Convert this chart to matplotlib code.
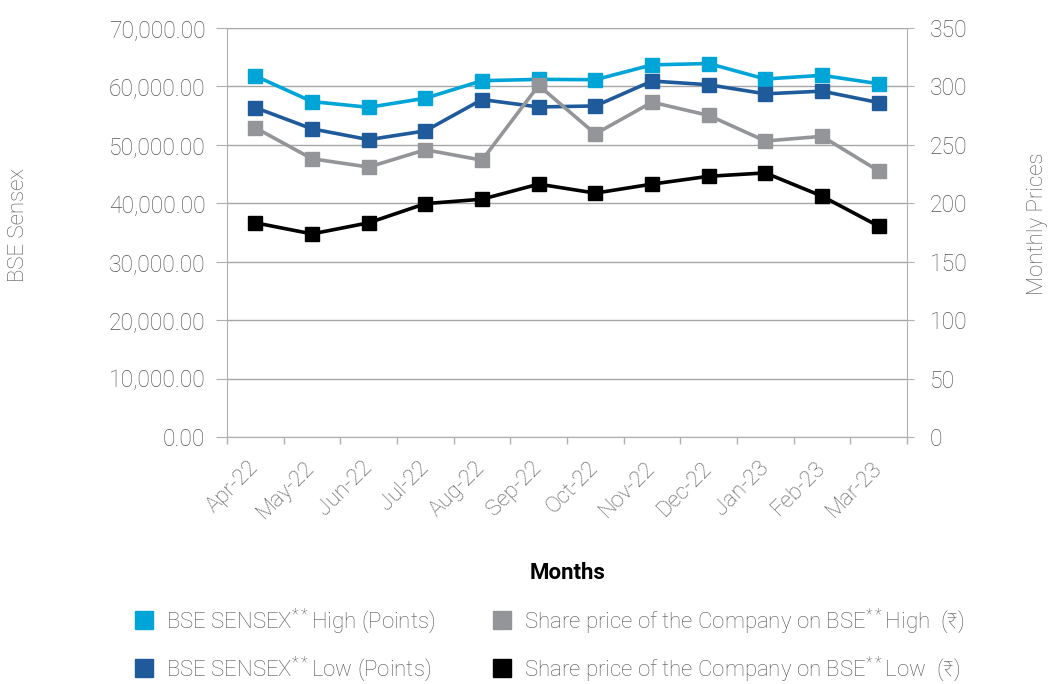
import matplotlib
matplotlib.use("Agg")
import matplotlib.pyplot as plt
from matplotlib.lines import Line2D
from matplotlib.ticker import FuncFormatter, FixedLocator

months = ["Apr-22", "May-22", "Jun-22", "Jul-22", "Aug-22", "Sep-22",
          "Oct-22", "Nov-22", "Dec-22", "Jan-23", "Feb-23", "Mar-23"]
sensex_high = [61786, 57407, 56426, 57983, 60980, 61210,
               61153, 63688, 63920, 61268, 61902, 60461]
sensex_low = [56369, 52738, 50893, 52392, 57752, 56485,
              56658, 60922, 60288, 58733, 59193, 57234]
share_high = [264.6, 238.1, 231.0, 245.8, 236.9, 300.9,
              259.4, 286.5, 275.2, 253.3, 257.3, 227.7]
share_low = [183.3, 173.8, 183.3, 199.7, 203.5, 216.4,
             208.7, 216.4, 223.1, 226.0, 206.1, 180.4]

labels = ["BSE SENSEX$^{\\mathregular{**}}$High (Points)",
          "BSE SENSEX$^{\\mathregular{**}}$Low (Points)",
          "Share price of the Company on BSE$^{\\mathregular{**}}$High  (₹)",
          "Share price of the Company on BSE$^{\\mathregular{**}}$Low  (₹)"]
colors = ["#00A5D8", "#1F5B9B", "#939598", "#000000"]

FONT = ["Roboto", "Noto Sans", "DejaVu Sans"]
plt.rcParams["font.family"] = FONT
plt.rcParams["font.weight"] = "light"
plt.rcParams["mathtext.default"] = "regular"
TXT = "#555555"
AX = "#B0B0B0"

fig = plt.figure(figsize=(10.53, 6.84), dpi=100)
ax = fig.add_axes([227 / 1053, 1 - 437 / 684, 680 / 1053, 409 / 684])
ax2 = ax.twinx()

x = list(range(len(months)))
ax.plot(x, sensex_high, color=colors[0], lw=2.6, marker="s", ms=9.5, zorder=3)
ax.plot(x, sensex_low, color=colors[1], lw=2.6, marker="s", ms=9.5, zorder=3)
ax2.plot(x, share_high, color=colors[2], lw=2.6, marker="s", ms=9.5, zorder=3)
ax2.plot(x, share_low, color=colors[3], lw=2.6, marker="s", ms=9.5, zorder=3)

ax.set_xlim(-0.5, len(months) - 0.5)
ax.set_ylim(0, 70000)
ax2.set_ylim(0, 350)
ax.set_yticks(range(0, 70001, 10000))
ax2.set_yticks(range(0, 351, 50))
ax.yaxis.set_major_formatter(FuncFormatter(lambda v, p: f"{v:,.2f}"))
ax.grid(axis="y", color="#A6A6A6", lw=1)
ax.set_axisbelow(True)

ax.set_xticks(x)
ax.set_xticklabels(months, rotation=45, ha="right", va="center",
                   rotation_mode="anchor", fontsize=16, color=TXT)
ax.xaxis.set_minor_locator(FixedLocator([i - 0.5 for i in range(len(months) + 1)]))
ax.tick_params(axis="x", which="major", length=0, pad=20)
ax.tick_params(axis="x", which="minor", length=5, color=AX, width=1)

for a in (ax, ax2):
    for s in a.spines.values():
        s.set_visible(False)
ax.spines["left"].set_visible(True)
ax.spines["left"].set_color(AX)
ax.spines["bottom"].set_visible(True)
ax.spines["bottom"].set_color(AX)
ax2.spines["right"].set_visible(True)
ax2.spines["right"].set_color(AX)

ax.tick_params(axis="y", length=8, color=AX, labelsize=16.5, labelcolor=TXT, pad=7.5)
ax2.tick_params(axis="y", length=5, color=AX, labelsize=16.5, labelcolor=TXT, pad=11.5)

fig.text(18 / 1053, 1 - 225 / 684, "BSE Sensex", rotation=90, ha="center",
         va="center", fontsize=16, color=TXT)
fig.text(1038 / 1053, 1 - 224 / 684, "Monthly Prices", rotation=90, ha="center",
         va="center", fontsize=16, color=TXT)
fig.text(568 / 1053, 1 - 573 / 684, "Months", ha="center", va="center",
         fontsize=16, fontweight="bold", color="#000000")

handles = [Line2D([], [], ls="none", marker="s", ms=13.5, color=c) for c in colors]
leg = fig.legend(handles, labels, ncol=2, loc="center",
                 bbox_to_anchor=(549 / 1053, 1 - 645 / 684), frameon=False,
                 fontsize=16, labelcolor=TXT, handlelength=0.9,
                 handletextpad=0.5, columnspacing=2.6, labelspacing=0.85)

fig.savefig("out.png", dpi=100, facecolor="white")
